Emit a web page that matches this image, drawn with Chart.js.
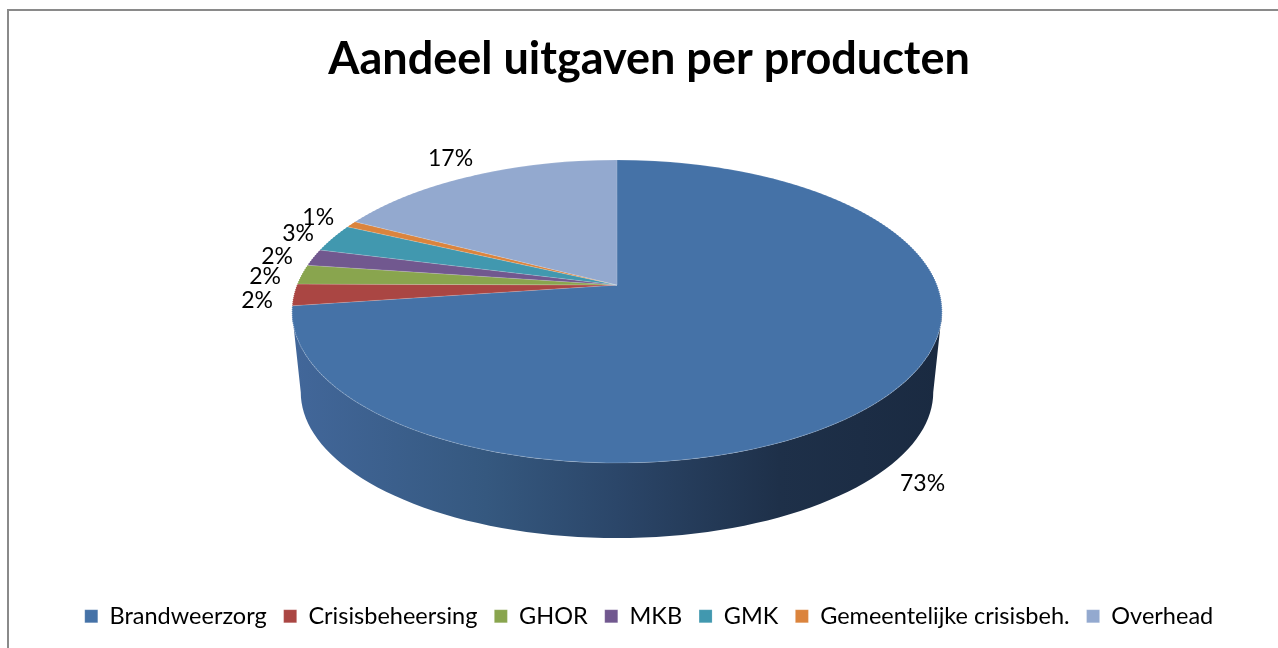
<!DOCTYPE html>
<html lang="nl">
<head>
<meta charset="UTF-8">
<title>Aandeel uitgaven per producten</title>
<script src="https://cdn.jsdelivr.net/npm/chart.js"></script>
<style>
  html, body { margin: 0; padding: 0; background: #fff; }
  #wrap { width: 1278px; height: 648px; position: relative; }
</style>
</head>
<body>
<div id="wrap"><canvas id="grafiek" width="1278" height="648"></canvas></div>
<script>
// gegevens
const producten = ['Brandweerzorg', 'Crisisbeheersing', 'GHOR', 'MKB', 'GMK', 'Gemeentelijke crisisbeh.', 'Overhead'];
const aandeel = [72.8, 2.3, 2.1, 1.8, 3.0, 0.7, 17.3];
const kleurBoven = ['#4572A7', '#AA4643', '#89A54E', '#71588F', '#4198AF', '#DB843D', '#93A9CF'];
const kleurZijkant = ['#2b4669', '#7a3230', '#5f7a36', '#4f3d66', '#2d6b7b', '#9a5c2a', '#66768f'];

// perspectief van de schuine taart: midden (cx, ay), straal A/B, k = vertekening
const persp = { cx: 617, ay: 285, A: 320, B: 146.9, k: 0.175 };
const lettertype = 'Lato, "Open Sans", sans-serif';

function projecteer(c, s) {
    const w = 1 / (1 - persp.k * s);
    return [persp.cx + persp.A * c * w, persp.ay + persp.B * s * w];
}
function diepte(s) {
    return 82 - 7 * s;
}

const kader = {
    id: 'kader',
    beforeDraw(chart) {
        const ctx = chart.ctx;
        ctx.save();
        ctx.fillStyle = '#fff';
        ctx.fillRect(0, 0, chart.width, chart.height);
        ctx.strokeStyle = '#8a8a8a';
        ctx.lineWidth = 2;
        ctx.beginPath();
        ctx.moveTo(8, chart.height + 2);
        ctx.lineTo(8, 10);
        ctx.lineTo(chart.width + 2, 10);
        ctx.stroke();
        ctx.restore();
    }
};

const taart3d = {
    id: 'taart3d',
    beforeDatasetsDraw(chart) {
        const ctx = chart.ctx;
        const meta = chart.getDatasetMeta(0);
        const { cx, ay, A, B, k } = persp;
        const rand = Math.asin(k);

        // zijkant (alleen de voorkant is zichtbaar)
        meta.data.forEach((arc, i) => {
            const p = arc.getProps(['startAngle', 'endAngle'], true);
            const a = Math.max(p.startAngle, rand);
            const b = Math.min(p.endAngle, Math.PI - rand);
            if (b <= a) return;
            const n = 80;
            ctx.beginPath();
            for (let j = 0; j <= n; j++) {
                const t = a + (b - a) * j / n;
                const [x, y] = projecteer(Math.cos(t), Math.sin(t));
                j === 0 ? ctx.moveTo(x, y) : ctx.lineTo(x, y);
            }
            for (let j = n; j >= 0; j--) {
                const t = a + (b - a) * j / n;
                const s = Math.sin(t);
                const [x, y] = projecteer(Math.cos(t), s);
                ctx.lineTo(cx + (x - cx) * 0.973, y + diepte(s));
            }
            ctx.closePath();
            if (i === 0) {
                const g = ctx.createLinearGradient(cx - 325, 0, cx + 325, 0);
                g.addColorStop(0, '#42679a');
                g.addColorStop(0.3, '#35587f');
                g.addColorStop(0.5, '#2b4669');
                g.addColorStop(0.75, '#1e3049');
                g.addColorStop(1, '#1a2a41');
                ctx.fillStyle = g;
            } else {
                ctx.fillStyle = kleurZijkant[i];
            }
            ctx.fill();
        });

        // bovenkant: de taart van Chart.js in smalle banden in perspectief zetten
        const ref = meta.data[0].getProps(['x', 'y', 'outerRadius'], true);
        const R = ref.outerRadius;
        const vanY = Y => (Y - ay) / (B + k * (Y - ay));
        const boven = Math.floor(ay - B / (1 + k)) - 2;
        const onder = Math.ceil(ay + B / (1 - k)) + 2;
        for (let y0 = boven; y0 < onder; y0 += 2) {
            const y1 = y0 + 2;
            const v0 = vanY(y0), v1 = vanY(y1);
            const vm = (v0 + v1) / 2;
            const hs = A / (1 - k * vm) / R;
            const sY = (y1 - y0) / (v1 - v0);
            ctx.save();
            ctx.beginPath();
            ctx.rect(0, y0, chart.width, 2);
            ctx.clip();
            ctx.translate(cx, y0 - sY * v0);
            ctx.scale(hs, sY / R);
            ctx.translate(-ref.x, -ref.y);
            meta.controller.draw();
            ctx.restore();
        }
    },
    beforeDatasetDraw() {
        return false;
    },
    afterDatasetsDraw(chart) {
        const ctx = chart.ctx;
        const meta = chart.getDatasetMeta(0);
        const totaal = aandeel.reduce((s, v) => s + v, 0);
        ctx.save();
        ctx.font = '23px ' + lettertype;
        ctx.fillStyle = '#000';
        ctx.textAlign = 'center';
        ctx.textBaseline = 'middle';
        meta.data.forEach((arc, i) => {
            const p = arc.getProps(['startAngle', 'endAngle'], true);
            const m = (p.startAngle + p.endAngle) / 2;
            const c = Math.cos(m), s = Math.sin(m);
            const tekst = Math.round(aandeel[i] / totaal * 100) + '%';
            const w = ctx.measureText(tekst).width;
            let [x, y] = projecteer(c, s);
            x += c * 21 + c * w / 2;
            y += s * 25 + 4;
            y += 0.9 * diepte(s) * Math.max(0, Math.min(1, (s - 0.1) / 0.3));
            ctx.fillText(tekst, x, y);
        });
        ctx.restore();
    }
};

new Chart(document.getElementById('grafiek'), {
    type: 'pie',
    data: {
        labels: producten,
        datasets: [{
            data: aandeel,
            backgroundColor: kleurBoven,
            borderColor: 'rgba(255,255,255,0.3)',
            borderWidth: 0.5
        }]
    },
    options: {
        responsive: false,
        animation: false,
        events: [],
        layout: { padding: { left: 20, right: 0, top: 0, bottom: 10 } },
        plugins: {
            title: {
                display: true,
                text: 'Aandeel uitgaven per producten',
                color: '#000',
                font: { family: lettertype, size: 45, weight: 'bold' },
                padding: { top: 32, bottom: 20 }
            },
            legend: {
                position: 'bottom',
                labels: {
                    color: '#000',
                    boxWidth: 13,
                    boxHeight: 13,
                    padding: 17,
                    font: { family: lettertype, size: 23.5 }
                }
            },
            tooltip: { enabled: false }
        }
    },
    plugins: [kader, taart3d]
});
</script>
</body>
</html>
